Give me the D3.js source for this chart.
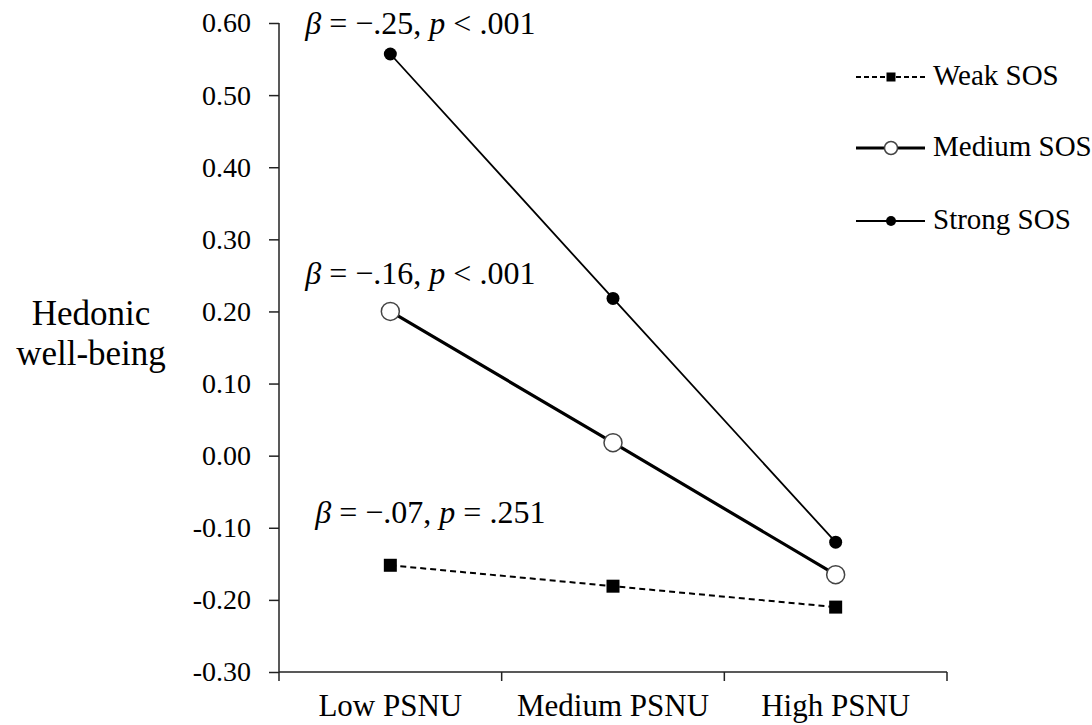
<!DOCTYPE html>
<html>
<head>
<meta charset="utf-8">
<script src="https://cdn.jsdelivr.net/npm/d3@7"></script>
<style>
  body { margin: 0; }
  #chart text, #chart tspan { font-family: "Liberation Serif" !important; }
</style>
</head>
<body>
<svg id="chart" width="1092" height="725"></svg>
<script>
const categories = ["Low PSNU", "Medium PSNU", "High PSNU"];
const yTicks = [-0.3, -0.2, -0.1, 0, 0.1, 0.2, 0.3, 0.4, 0.5, 0.6];

const weakSOS = [-0.152, -0.181, -0.210];
const mediumSOS = [0.200, 0.018, -0.165];
const strongSOS = [0.557, 0.218, -0.120];

const annotations = [
  { series: "Strong SOS", beta: "\u2212.25", p: "< .001" },
  { series: "Medium SOS", beta: "\u2212.16", p: "< .001" },
  { series: "Weak SOS", beta: "\u2212.07", p: "= .251" }
];

const svg = d3.select("#chart");

const x = d3.scaleBand().domain(categories).range([279, 947]).padding(0);
const y = d3.scaleLinear().domain([-0.3, 0.6]).range([672, 23]);
const cx = c => x(c) + x.bandwidth() / 2;

const series = [
  { name: "Weak SOS", values: weakSOS, width: 2, dash: "6,4", marker: "square" },
  { name: "Medium SOS", values: mediumSOS, width: 3.2, dash: null, marker: "open" },
  { name: "Strong SOS", values: strongSOS, width: 1.8, dash: null, marker: "dot" }
];

// y axis
const yAxis = svg.append("g")
  .attr("transform", "translate(279,0)")
  .call(d3.axisLeft(y).tickValues(yTicks).tickSize(10).tickPadding(18)
    .tickFormat(d => d.toFixed(2)))
  .attr("font-family", "Liberation Serif");
yAxis.selectAll("text").attr("font-size", 28).attr("fill", "#000");
yAxis.selectAll("line, path").attr("stroke", "#222").attr("stroke-width", 1.5);
yAxis.select(".domain").attr("d", `M0,${y(0.6)}V${y(-0.3) + 9}`);

// x axis: labels centred in bands, ticks at band edges
const xAxis = svg.append("g")
  .attr("transform", `translate(0,${y(-0.3)})`)
  .call(d3.axisBottom(x).tickSize(0).tickPadding(22))
  .attr("font-family", "Liberation Serif");
xAxis.selectAll("text").attr("font-size", 31).attr("fill", "#000");
xAxis.select(".domain").attr("d", `M${x.range()[0]},0H${x.range()[1]}`)
  .attr("stroke", "#222").attr("stroke-width", 1.5);
const edges = categories.map(c => x(c)).concat([x.range()[1]]);
xAxis.selectAll(".edge").data(edges.slice(1)).enter().append("line")
  .attr("x1", d => d).attr("x2", d => d)
  .attr("y1", 0).attr("y2", 9)
  .attr("stroke", "#222").attr("stroke-width", 1.5);

// y title
["Hedonic", "well-being"].forEach((t, i) => {
  svg.append("text")
    .attr("x", 91).attr("y", 325 + i * 40)
    .attr("text-anchor", "middle").attr("font-size", 35)
    .text(t);
});

const line = d3.line().x((d, i) => cx(categories[i])).y(d => y(d));

function drawMarker(g, type, px, py, big) {
  if (type === "square") {
    const s = big ? 13 : 9;
    g.append("rect").attr("x", px - s / 2).attr("y", py - s / 2)
      .attr("width", s).attr("height", s).attr("fill", "#000");
  } else if (type === "open") {
    g.append("circle").attr("cx", px).attr("cy", py).attr("r", big ? 9 : 6.5)
      .attr("fill", "#fff").attr("stroke", "#444").attr("stroke-width", 1.5);
  } else {
    g.append("circle").attr("cx", px).attr("cy", py).attr("r", big ? 6.5 : 5)
      .attr("fill", "#000");
  }
}

series.forEach(s => {
  const g = svg.append("g");
  g.append("path")
    .attr("d", line(s.values))
    .attr("fill", "none").attr("stroke", "#000")
    .attr("stroke-width", s.width)
    .attr("stroke-dasharray", s.dash);
  s.values.forEach((v, i) => drawMarker(g, s.marker, cx(categories[i]), y(v), true));
});

// annotations above the Low PSNU points
const annOffset = { "Strong SOS": [-85, -20], "Medium SOS": [-85, -27], "Weak SOS": [-75, -42] };
annotations.forEach(a => {
  const s = series.find(d => d.name === a.series);
  const px = cx(categories[0]) + annOffset[a.series][0];
  const py = y(s.values[0]) + annOffset[a.series][1];
  const t = svg.append("text").attr("x", px).attr("y", py).attr("font-size", 32);
  t.append("tspan").attr("font-style", "italic").text("\u03b2");
  t.append("tspan").text(" = " + a.beta + ", ");
  t.append("tspan").attr("font-style", "italic").text("p");
  t.append("tspan").text(" " + a.p);
});

// legend
const legendY = [77, 148, 221];
series.forEach((s, i) => {
  const g = svg.append("g").attr("transform", `translate(0,${legendY[i]})`);
  g.append("line").attr("x1", 856).attr("x2", 925).attr("y1", 0).attr("y2", 0)
    .attr("stroke", "#000").attr("stroke-width", s.width)
    .attr("stroke-dasharray", s.dash ? "5,3" : null);
  drawMarker(g, s.marker, 891, 0, false);
  g.append("text").attr("x", 933).attr("y", 8).attr("font-size", 29)
    .text(s.name);
});
</script>
</body>
</html>
